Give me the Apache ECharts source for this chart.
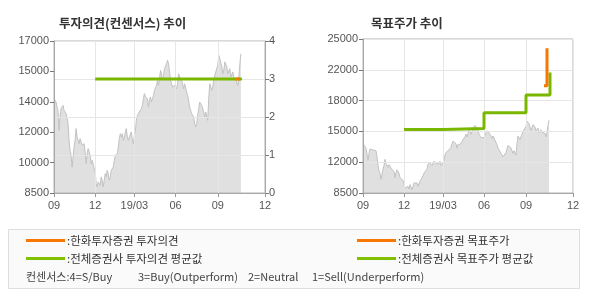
<!DOCTYPE html>
<html>
<head>
<meta charset="utf-8">
<script src="https://cdn.jsdelivr.net/npm/echarts@6/dist/echarts.min.js"></script>
<style>
html,body{margin:0;padding:0;background:#fff;}
#chart{width:590px;height:300px;}
</style>
</head>
<body>
<div id="chart"></div>
<script>
// ---- data ----
const xTickLabels = ['09', '12', '19/03', '06', '09', '12'];
const xTickIndex = [0, 41, 80, 121, 163, 210];
const dayCount = 211;

const leftPriceLabels = ['8500', '10000', '12000', '14000', '15000', '17000'];
const rightPriceLabels = ['8500', '12000', '15000', '18000', '22000', '25000'];
const opinionLabels = ['0', '1', '2', '3', '4'];

const price = [
  13780,13680,13590,13310,13120,12000,12750,13220,13310,13400,
  13120,13030,12940,13030,12380,11450,10890,10610,9950,10510,
  11070,11450,12100,11630,11450,11260,11540,11450,11170,11070,
  11260,10790,10140,10700,10980,10790,10610,10140,10330,10230,
  9860,9670,9020,8840,9120,9210,8930,9400,9210,8840,
  9210,9580,9400,9770,9580,9210,9400,9770,9860,9950,
  10330,10610,10510,10700,11070,11540,11820,11630,11820,11450,
  11630,11910,12100,11630,11450,11630,11630,11910,11450,11260,
  11730,12000,12560,12840,12750,13030,13120,13220,13400,13780,
  14060,13870,13870,13780,13310,13680,13870,13590,13780,13960,
  14240,14330,14520,14800,14520,14890,15360,15170,14800,15080,
  15450,15550,15730,15920,15730,15270,14800,14610,14430,14520,
  14520,14430,14330,14610,15170,14990,15080,14800,14610,14330,
  14610,14610,14150,13960,13680,13310,13120,12940,13030,12750,
  12380,12190,12380,12840,13220,13590,13680,13400,13310,13030,
  12750,13030,13120,12560,13780,14610,14430,14240,14430,14800,
  15080,15270,15170,15640,16200,16010,15920,15550,15170,15360,
  15830,15730,15550,15170,15080,15450,14990,14890,15270,14990,
  14890,14800,14890,14520,14990,15730,16290
];

const opinionAvgDays = [41, 187];
const opinionAvgValues = [3, 3];
const opinionHwDays = [181, 185];
const opinionHwValues = [3, 3];

const targetAvgDays = [41, 80, 121, 163, 187];
const targetAvgValues = [15300, 15400, 17100, 19000, 21400];
const targetHwDays = [181, 184];
const targetHwValues = [20000, 24000];

// ---- styles ----
const GREEN = '#7ab800';
const ORANGE = '#f77800';
const FONT = '"Liberation Sans", Arial, sans-serif';
const KFONT = '"Noto Sans CJK KR", sans-serif';

const days = Array.from({length: dayCount}, (_, i) => String(i));
const isTick = (i) => xTickIndex.indexOf(i) >= 0;
const zip = (a, b) => a.map((v, i) => [v, b[i]]);

function makeX(gi) {
  return {
    type: 'category', gridIndex: gi, data: days, boundaryGap: false,
    axisLine: {lineStyle: {color: '#a8a8a8', width: 1}},
    axisTick: {show: true, interval: (i) => isTick(i), length: 4, lineStyle: {color: '#999'}},
    axisLabel: {interval: (i) => isTick(i), formatter: (v, i) => xTickLabels[xTickIndex.indexOf(i)] || '',
      color: '#555', fontSize: 11, fontFamily: FONT, margin: 7},
    splitLine: {show: true, interval: (i) => isTick(i), lineStyle: {color: '#e6e6e6', width: 1}}
  };
}

const option = {
  animation: false,
  backgroundColor: '#fff',
  title: [
    {text: '투자의견(컨센서스) 추이', left: 54, top: 12,
      textStyle: {fontSize: 12.5, fontWeight: 'bold', color: '#333', fontFamily: KFONT}},
    {text: '목표주가 추이', left: 366, top: 12,
      textStyle: {fontSize: 12.5, fontWeight: 'bold', color: '#333', fontFamily: KFONT}}
  ],
  grid: [
    {left: 54, top: 41, width: 211, height: 152, show: true, borderColor: '#b4b4b4', borderWidth: 1, backgroundColor: 'transparent'},
    {left: 363, top: 39, width: 210, height: 154, show: true, borderColor: '#b4b4b4', borderWidth: 1, backgroundColor: 'transparent'}
  ],
  xAxis: [makeX(0), makeX(1)],
  yAxis: [
    {type: 'value', gridIndex: 0, position: 'left', min: 0, max: 5, interval: 1,
      axisLine: {show: true, lineStyle: {color: '#a8a8a8'}},
      axisTick: {show: true, length: 4, lineStyle: {color: '#777'}},
      axisLabel: {formatter: (v) => leftPriceLabels[v], color: '#555', fontSize: 11, fontFamily: FONT, margin: 5},
      splitLine: {show: false}},
    {type: 'value', gridIndex: 0, position: 'right', min: 0, max: 4, interval: 1,
      axisLine: {show: true, lineStyle: {color: '#a8a8a8'}},
      axisTick: {show: true, length: 4, lineStyle: {color: '#777'}},
      axisLabel: {formatter: (v) => opinionLabels[v], color: '#555', fontSize: 11, fontFamily: FONT, margin: 4},
      splitLine: {show: true, lineStyle: {color: '#e6e6e6'}}},
    {type: 'value', gridIndex: 0, min: 8500, max: 17000, show: false},
    {type: 'value', gridIndex: 1, position: 'left', min: 0, max: 5, interval: 1,
      axisLine: {show: true, lineStyle: {color: '#a8a8a8'}},
      axisTick: {show: true, length: 4, lineStyle: {color: '#777'}},
      axisLabel: {formatter: (v) => rightPriceLabels[v], color: '#555', fontSize: 11, fontFamily: FONT, margin: 5},
      splitLine: {show: true, lineStyle: {color: '#e6e6e6'}}},
    {type: 'value', gridIndex: 1, min: 8500, max: 25000, show: false}
  ],
  series: [
    {type: 'line', xAxisIndex: 0, yAxisIndex: 2, data: price, symbol: 'none', z: -1,
      lineStyle: {color: '#c2c2c2', width: 1}, areaStyle: {color: '#e0e0e0', opacity: 1, origin: 'start'}},
    {type: 'line', xAxisIndex: 0, yAxisIndex: 1, data: zip(opinionAvgDays, opinionAvgValues), symbol: 'none',
      lineStyle: {color: GREEN, width: 3}},
    {type: 'line', xAxisIndex: 0, yAxisIndex: 1, data: zip(opinionHwDays, opinionHwValues), symbol: 'none',
      lineStyle: {color: ORANGE, width: 3}},
    {type: 'line', xAxisIndex: 1, yAxisIndex: 4, data: price, symbol: 'none', z: -1,
      lineStyle: {color: '#c2c2c2', width: 1}, areaStyle: {color: '#e0e0e0', opacity: 1, origin: 'start'}},
    {type: 'line', xAxisIndex: 1, yAxisIndex: 4, data: zip(targetAvgDays, targetAvgValues), symbol: 'none', step: 'end',
      lineStyle: {color: GREEN, width: 3}},
    {type: 'line', xAxisIndex: 1, yAxisIndex: 4, data: zip(targetHwDays, targetHwValues), symbol: 'none', step: 'end',
      lineStyle: {color: ORANGE, width: 3}}
  ],
  graphic: [
    {type: 'rect', shape: {x: 8.5, y: 229.5, width: 571, height: 59}, style: {fill: '#fafafa', stroke: '#dedede', lineWidth: 1}},
    {type: 'line', shape: {x1: 26, y1: 240.5, x2: 65, y2: 240.5}, style: {stroke: ORANGE, lineWidth: 3}},
    {type: 'line', shape: {x1: 26, y1: 258.5, x2: 65, y2: 258.5}, style: {stroke: '#80c000', lineWidth: 3}},
    {type: 'line', shape: {x1: 357, y1: 240.5, x2: 396, y2: 240.5}, style: {stroke: ORANGE, lineWidth: 3}},
    {type: 'line', shape: {x1: 357, y1: 258.5, x2: 396, y2: 258.5}, style: {stroke: '#80c000', lineWidth: 3}},
    {type: 'text', x: 67, y: 240.5, style: {text: ':한화투자증권 투자의견', fill: '#333', font: '11.5px ' + KFONT, textVerticalAlign: 'middle'}},
    {type: 'text', x: 67, y: 258.5, style: {text: ':전체증권사 투자의견 평균값', fill: '#333', font: '11.5px ' + KFONT, textVerticalAlign: 'middle'}},
    {type: 'text', x: 398, y: 240.5, style: {text: ':한화투자증권 목표주가', fill: '#333', font: '11.5px ' + KFONT, textVerticalAlign: 'middle'}},
    {type: 'text', x: 398, y: 258.5, style: {text: ':전체증권사 목표주가 평균값', fill: '#333', font: '11.5px ' + KFONT, textVerticalAlign: 'middle'}},
    {type: 'text', x: 26, y: 277, style: {text: '컨센서스:4=S/Buy', fill: '#444', font: '11px ' + KFONT, textVerticalAlign: 'middle'}},
    {type: 'text', x: 138, y: 277, style: {text: '3=Buy(Outperform)', fill: '#444', font: '11px ' + KFONT, textVerticalAlign: 'middle'}},
    {type: 'text', x: 248, y: 277, style: {text: '2=Neutral', fill: '#444', font: '11px ' + KFONT, textVerticalAlign: 'middle'}},
    {type: 'text', x: 312, y: 277, style: {text: '1=Sell(Underperform)', fill: '#444', font: '11px ' + KFONT, textVerticalAlign: 'middle'}}
  ]
};

const chart = echarts.init(document.getElementById('chart'), null, {renderer: 'canvas'});
chart.setOption(option);
</script>
</body>
</html>
